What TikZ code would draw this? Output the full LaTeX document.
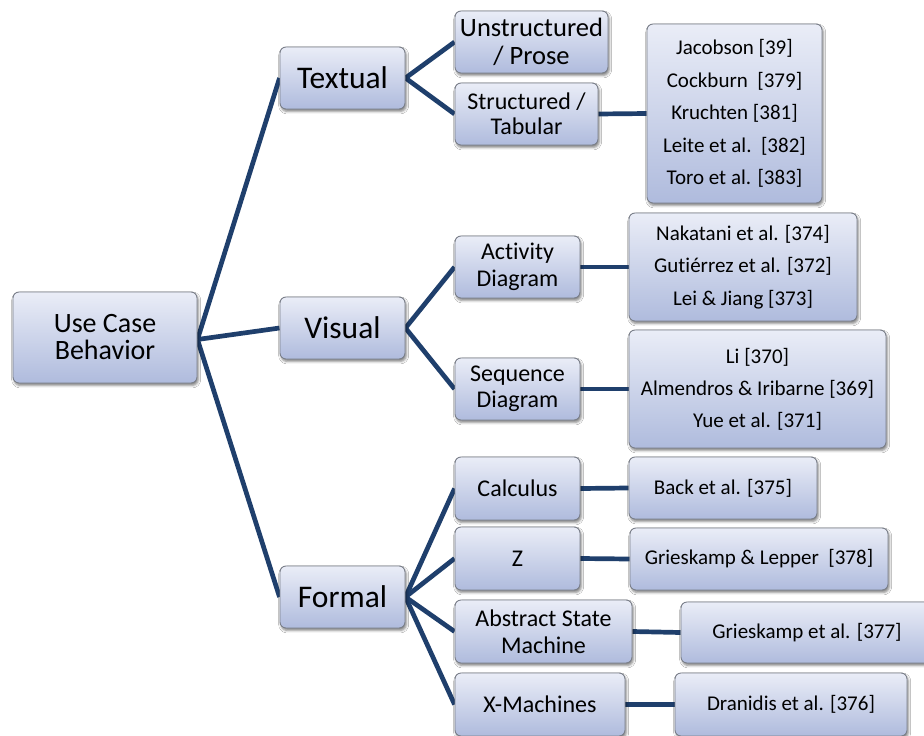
\documentclass[tikz,border=0pt]{standalone}
\usepackage{fontspec}
\setmainfont{Carlito}[Ligatures={NoCommon}]
\usetikzlibrary{shadows.blur,backgrounds}
\definecolor{boxtop}{HTML}{EAEDF7}
\definecolor{boxbot}{HTML}{AFBBDD}
\definecolor{boxline}{HTML}{7A7F8A}
\definecolor{linkcol}{HTML}{1F3F6C}
\newcommand{\fsz}[2]{\fontsize{#1}{#2}\selectfont}
% keeps the letters t and i apart (no joined glyph)
\newcommand{\nolig}{\kern0pt }
\tikzset{
  tbox/.style={draw=boxline, line width=0.9pt, rounded corners=6pt,
    top color=boxtop, bottom color=boxbot, align=center, inner sep=0pt,
    text=black,
    blur shadow={shadow xshift=1.2pt, shadow yshift=-2.4pt,
      shadow blur radius=2.5pt, shadow opacity=50}},
  link/.style={draw=linkcol, line width=4.7pt},
}
% name, cx, cy, width, height, font size, line skip, text
\newcommand{\bx}[8]{%
  \node[tbox, minimum width=#4pt, minimum height=#5pt, font=\fsz{#6}{#7}]
    (#1) at (#2,#3) {#8};}
\begin{document}
\begin{tikzpicture}[x=1pt, y=-1pt]
\clip (0,0) rectangle (924,736);

% level one
\bx{ucb}{105}{337.5}{184}{91}{28}{27}{Use Case\\Behavior}
\bx{txt}{342.5}{78}{125}{62}{31.5}{30}{Textual}
\bx{vis}{342.5}{328}{125}{62}{31.5}{30}{Visual}
\bx{frm}{342.5}{597}{125}{62}{31.5}{30}{Formal}

% level two
\bx{uns}{531.5}{42}{153}{62}{26.5}{28}{Unstructured\\/ Prose}
\bx{str}{526.5}{114}{143}{62}{24}{25.5}{Structured /\\Tabular}
\bx{act}{517.5}{267}{125}{62}{24}{27}{Act\nolig ivity\\Diagram}
\bx{seq}{517.5}{389}{125}{62}{24}{26}{Sequence\\Diagram}
\bx{cal}{517.5}{488.5}{125}{63}{24}{26}{Calculus}
\bx{z}{517.5}{558.5}{125}{63}{24}{26}{Z}
\bx{asm}{543.5}{631.5}{177}{63}{24}{27}{Abstract State\\Machine}
\bx{xm}{540}{704.5}{170}{63}{24}{26}{X-Machines}

% references
\bx{jac}{734.5}{113.5}{175}{179}{21}{32.5}{Jacobson [39]\\Cockburn\ \ [379]\\Kruchten [381]\\Leite et al.\ \ [382]\\Toro et al. [383]}
\bx{nak}{743}{267}{228}{108}{21}{32.5}{Nakatani et al. [374]\\Gut\nolig iérrez et al. [372]\\Lei \& Jiang [373]}
\bx{li}{757.5}{389}{257}{118}{21}{32}{Li [370]\\Almendros \& Iribarne [369]\\Yue et al. [371]}
\bx{back}{723}{488}{188}{62}{21}{26}{Back et al. [375]}
\bx{gl}{759}{559}{258}{62}{21}{26}{Grieskamp \& Lepper\ \ [378]}
\bx{geta}{807}{632.5}{252}{61}{21}{26}{Grieskamp et al. [377]}
\bx{dra}{791}{704.5}{232}{63}{21}{26}{Dranidis et al. [376]}

% connectors behind the boxes
\begin{scope}[on background layer]
\fill[white] (0,0) rectangle (924,736);
\coordinate (root) at ([yshift=-2pt]ucb.east);
\draw[link] (root) -- (txt.west);
\draw[link] (root) -- (vis.west);
\draw[link] (root) -- (frm.west);
\draw[link] (txt.east) -- (uns.west);
\draw[link] (txt.east) -- (str.west);
\draw[link] (vis.east) -- (act.west);
\draw[link] (vis.east) -- (seq.west);
\draw[link] (frm.east) -- (cal.west);
\draw[link] (frm.east) -- (z.west);
\draw[link] (frm.east) -- (asm.west);
\draw[link] (frm.east) -- (xm.west);
\draw[link] (str.east) -- (jac.west);
\draw[link] (act.east) -- (nak.west);
\draw[link] (seq.east) -- (li.west);
\draw[link] (cal.east) -- (back.west);
\draw[link] (z.east) -- (gl.west);
\draw[link] (asm.east) -- (geta.west);
\draw[link] (xm.east) -- (dra.west);
\end{scope}
\end{tikzpicture}
\end{document}
